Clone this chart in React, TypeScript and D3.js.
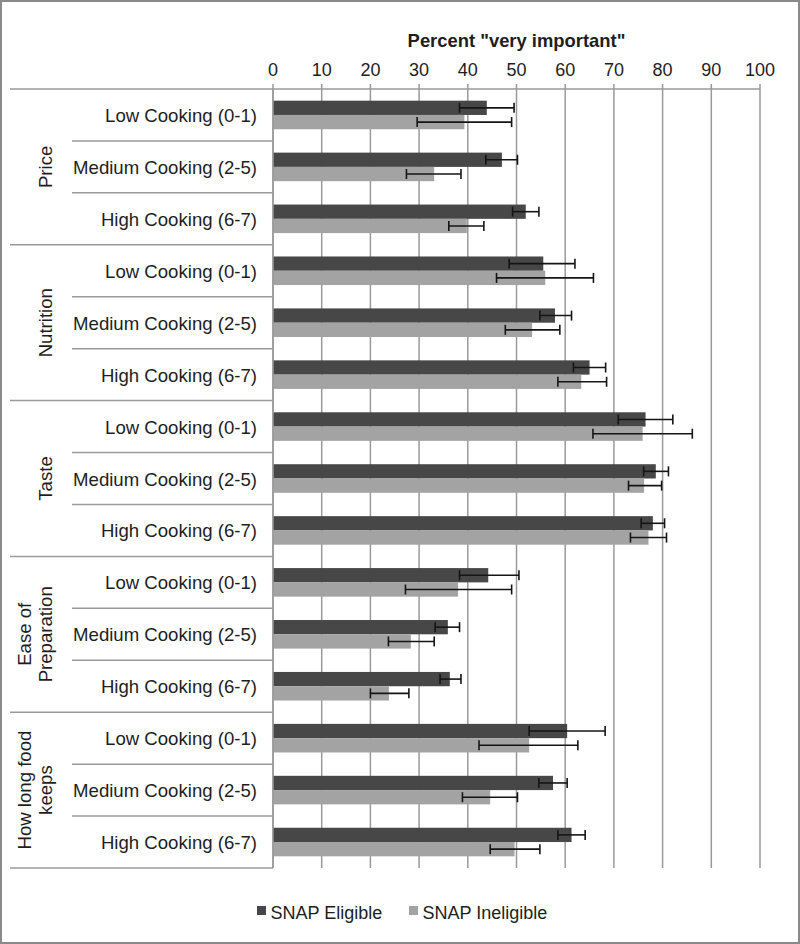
import React from "react";
import * as d3 from "d3";

const groups = ["Price", "Nutrition", "Taste", "Ease of Preparation", "How long food keeps"];
const groupLines = [["Price"], ["Nutrition"], ["Taste"], ["Ease of", "Preparation"], ["How long food", "keeps"]];
const levels = ["Low Cooking (0-1)", "Medium Cooking (2-5)", "High Cooking (6-7)"];
const ticks = [0, 10, 20, 30, 40, 50, 60, 70, 80, 90, 100];
const seriesNames = ["SNAP Eligible", "SNAP Ineligible"];

const eligible = [43.9, 47.0, 51.9, 55.5, 57.9, 65.0, 76.5, 78.6, 78.0, 44.2, 35.9, 36.3, 60.4, 57.5, 61.3];
const eligibleLow = [38.3, 43.7, 49.2, 48.5, 54.8, 61.7, 70.9, 76.1, 75.6, 38.3, 33.3, 34.3, 52.6, 54.6, 58.5];
const eligibleHigh = [49.5, 50.2, 54.6, 62.0, 61.3, 68.3, 82.1, 81.2, 80.4, 50.5, 38.3, 38.6, 68.2, 60.4, 64.1];
const ineligible = [39.3, 33.1, 39.8, 55.9, 53.2, 63.3, 75.9, 76.2, 77.1, 38.0, 28.3, 23.8, 52.6, 44.6, 49.6];
const ineligibleLow = [29.6, 27.4, 36.1, 45.9, 47.7, 58.5, 65.7, 73.0, 73.4, 27.2, 23.7, 20.0, 42.3, 38.9, 44.6];
const ineligibleHigh = [49.0, 38.6, 43.3, 65.8, 58.9, 68.5, 86.1, 79.8, 80.8, 49.0, 33.1, 27.9, 62.6, 50.2, 54.8];

const W = 800;
const H = 944;
const left = 273;
const right = 760;
const top = 89;
const bottom = 868;
const FONT = "'Liberation Sans', Arial, Helvetica, sans-serif";
const DARK = "#474747";
const LIGHT = "#a3a3a3";
const GRID = "#9a9a9a";
const TEXT = "#1e1e1e";

export default function App() {
  const rows = groups.flatMap((g, gi) => levels.map((l, li) => ({ key: `${gi}-${li}`, gi, li, label: l })));
  const x = d3.scaleLinear().domain([0, 100]).range([left, right]);
  const y = d3.scaleBand<string>().domain(rows.map((r) => r.key)).range([top, bottom]).paddingInner(0).paddingOuter(0);
  const bw = y.bandwidth();
  const barH = bw * 0.275;
  const series = [
    { vals: eligible, lo: eligibleLow, hi: eligibleHigh, color: DARK, off: -barH },
    { vals: ineligible, lo: ineligibleLow, hi: ineligibleHigh, color: LIGHT, off: 0 },
  ];

  return (
    <svg width={W} height={H} style={{ position: "absolute", left: 0, top: 0, background: "#fff" }} fontFamily={FONT}>
      <rect x={1} y={1} width={W - 2} height={H - 2} fill="#fff" stroke="#8a8a8a" strokeWidth={2} />
      <text x={(left + right) / 2} y={47} textAnchor="middle" fontSize={18.4} fontWeight="bold" fill={TEXT}>
        Percent "very important"
      </text>
      {ticks.map((t) => (
        <g key={t}>
          <line x1={x(t)} x2={x(t)} y1={top - 5} y2={bottom} stroke={GRID} strokeWidth={1.5} />
          <text x={x(t)} y={76} textAnchor="middle" fontSize={18} fill={TEXT}>
            {t}
          </text>
        </g>
      ))}
      <line x1={left} x2={right} y1={top} y2={top} stroke={GRID} strokeWidth={1.5} />
      {rows.map((r, i) => {
        const yy = y(r.key)!;
        const full = r.li === 0;
        return <line key={"s" + i} x1={full ? 10 : 72} x2={left} y1={yy} y2={yy} stroke={GRID} strokeWidth={1.5} />;
      })}
      <line x1={10} x2={left} y1={bottom} y2={bottom} stroke={GRID} strokeWidth={1.5} />
      {rows.map((r) => (
        <text key={"l" + r.key} x={257} y={y(r.key)! + bw / 2 + 7} textAnchor="end" fontSize={18.6} fill={TEXT}>
          {r.label}
        </text>
      ))}
      {groupLines.map((lines, gi) => {
        const y0 = y(`${gi}-0`)!;
        const y1 = y(`${gi}-2`)! + bw;
        const cy = (y0 + y1) / 2;
        const n = lines.length;
        return lines.map((ln, li) => {
          const bx = 52 - (n - 1 - li) * 21;
          return (
            <text key={`g${gi}-${li}`} transform={`translate(${bx},${cy}) rotate(-90)`} textAnchor="middle" fontSize={18.6} fill={TEXT}>
              {ln}
            </text>
          );
        });
      })}
      {series.map((s, si) =>
        rows.map((r, i) => {
          const cy = y(r.key)! + bw / 2;
          return (
            <rect key={`b${si}-${i}`} x={x(0)} y={cy + s.off} width={x(s.vals[i]) - x(0)} height={barH} fill={s.color} />
          );
        })
      )}
      {series.map((s, si) =>
        rows.map((r, i) => {
          const cy = y(r.key)! + bw / 2 + s.off + barH / 2;
          const x1 = x(s.lo[i]);
          const x2 = x(s.hi[i]);
          return (
            <g key={`e${si}-${i}`} stroke="#151515" strokeWidth={1.6}>
              <line x1={x1} x2={x2} y1={cy} y2={cy} />
              <line x1={x1} x2={x1} y1={cy - 5} y2={cy + 5} />
              <line x1={x2} x2={x2} y1={cy - 5} y2={cy + 5} />
            </g>
          );
        })
      )}
      <line x1={left} x2={left} y1={top} y2={bottom} stroke={GRID} strokeWidth={1.5} />
      {seriesNames.map((nm, i) => {
        const lx = i === 0 ? 257 : 409;
        return (
          <g key={nm}>
            <rect x={lx} y={906} width={9} height={9} fill={i === 0 ? DARK : LIGHT} />
            <text x={lx + 13.5} y={919} fontSize={18} fill={TEXT}>
              {nm}
            </text>
          </g>
        );
      })}
    </svg>
  );
}
